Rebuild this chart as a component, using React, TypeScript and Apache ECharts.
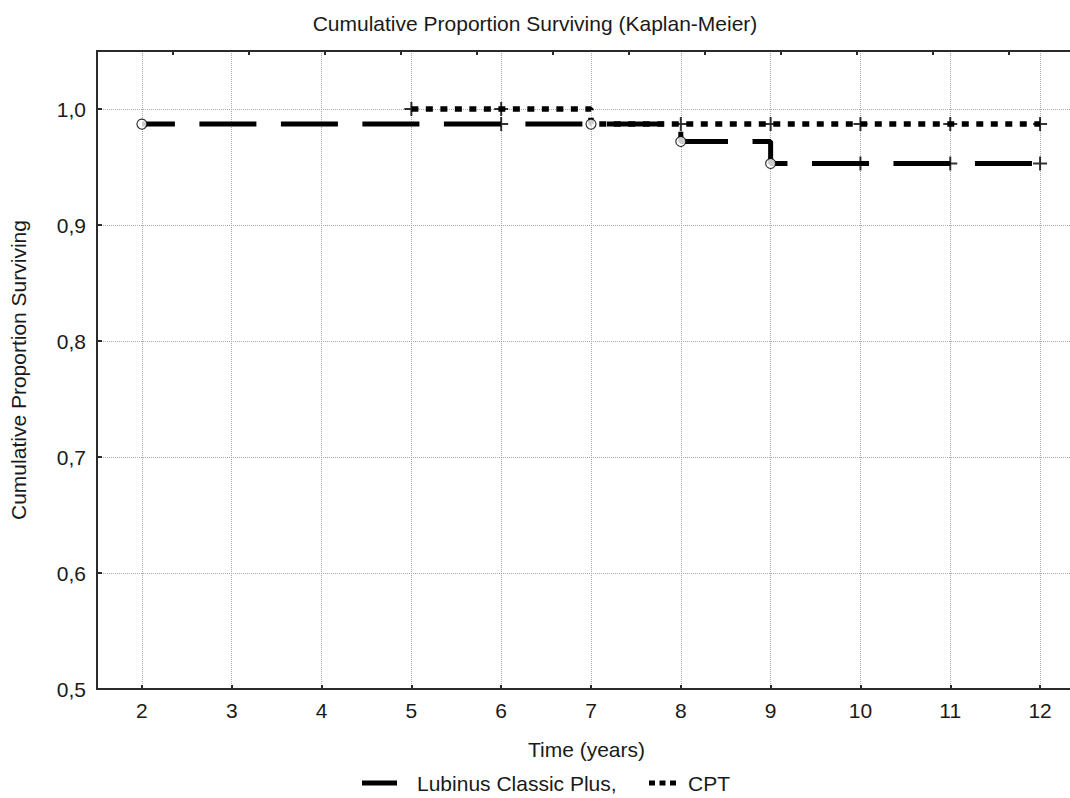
import React, { useEffect, useRef } from "react";
import * as echarts from "echarts";

// Kaplan-Meier step curves (time in years, cumulative proportion surviving)
const lubinusTimes = [2, 8, 9, 12];
const lubinusSurvival = [0.987, 0.972, 0.953, 0.953];
const cptTimes = [5, 7, 12];
const cptSurvival = [1.0, 0.987, 0.987];

// Complete (event) markers: open circles
const lubinusEventTimes = [2, 8, 9];
const lubinusEventSurvival = [0.987, 0.972, 0.953];
const cptEventTimes = [7];
const cptEventSurvival = [0.987];

// Censored markers: plus signs
const lubinusCensoredTimes = [6, 10, 11, 12];
const lubinusCensoredSurvival = [0.987, 0.953, 0.953, 0.953];
const cptCensoredTimes = [5, 6, 8, 9, 10, 11, 12];
const cptCensoredSurvival = [1.0, 1.0, 0.987, 0.987, 0.987, 0.987, 0.987];

const seriesNames = ["Lubinus Classic Plus,", "CPT"];
const chartTitle = "Cumulative Proportion Surviving (Kaplan-Meier)";
const xAxisTitle = "Time (years)";
const yAxisTitle = "Cumulative Proportion Surviving";

const FONT = "'Liberation Sans', Arial, sans-serif";
const TEXT = "#1a1a1a";
const AXIS = "#2b2b2b";
const GRIDC = "#a8a8a8";
const PLUS = "path://M6,0h2v6h6v2h-6v6h-2v-6h-6v-2h6z";

const zip = (xs: number[], ys: number[]) => xs.map((x, i) => [x, ys[i]]);

export default function App() {
  const ref = useRef<HTMLDivElement>(null);

  useEffect(() => {
    if (!ref.current) return;
    const chart = echarts.init(ref.current, null, { renderer: "svg" });

    const circleSeries = (data: number[][]) => ({
      type: "scatter",
      data,
      symbol: "circle",
      symbolSize: 10,
      itemStyle: { color: "#ffffff", borderColor: "#000000", borderWidth: 1.2 },
      z: 5,
      silent: true,
    });
    const plusSeries = (data: number[][]) => ({
      type: "scatter",
      data,
      symbol: PLUS,
      symbolSize: 14,
      itemStyle: { color: "#000000" },
      z: 6,
      silent: true,
    });

    const legendY = 783;

    chart.setOption({
      animation: false,
      backgroundColor: "#ffffff",
      textStyle: { fontFamily: FONT, color: TEXT },
      title: {
        text: chartTitle,
        left: "center",
        top: 8,
        textStyle: { fontFamily: FONT, fontSize: 21, fontWeight: "normal", color: TEXT },
      },
      graphic: [
        {
          type: "line",
          shape: { x1: 362, y1: legendY, x2: 397, y2: legendY },
          style: { stroke: "#000", lineWidth: 5 },
        },
        {
          type: "text",
          x: 417,
          y: legendY,
          style: {
            text: seriesNames[0],
            fontFamily: FONT,
            fontSize: 21,
            fill: TEXT,
            verticalAlign: "middle",
            align: "left",
          },
        },
        {
          type: "line",
          shape: { x1: 649, y1: legendY, x2: 676, y2: legendY },
          style: { stroke: "#000", lineWidth: 5, lineDash: [6, 4.5] },
        },
        {
          type: "text",
          x: 688,
          y: legendY,
          style: {
            text: seriesNames[1],
            fontFamily: FONT,
            fontSize: 21,
            fill: TEXT,
            verticalAlign: "middle",
            align: "left",
          },
        },
      ],
      grid: {
        left: 97,
        top: 51,
        right: -6,
        bottom: 109,
        outerBoundsMode: "none",
      },
      xAxis: [
        {
          type: "value",
          min: 1.5,
          max: 12.4,
          minInterval: 1,
          maxInterval: 1,
          name: xAxisTitle,
          nameLocation: "middle",
          nameGap: 50,
          nameTextStyle: { fontFamily: FONT, fontSize: 21, color: TEXT },
          axisLine: { show: true, lineStyle: { color: AXIS, width: 2 } },
          axisTick: { show: true, inside: true, length: 4, lineStyle: { color: AXIS, width: 2 } },
          axisLabel: {
            margin: 11,
            fontFamily: FONT,
            fontSize: 21,
            color: TEXT,
            showMinLabel: false,
            showMaxLabel: false,
            formatter: (v: number) => (Math.abs(v - Math.round(v)) < 1e-6 ? String(Math.round(v)) : ""),
          },
          splitLine: { show: true, lineStyle: { color: GRIDC, width: 1, type: [1, 1] } },
        },
        {
          type: "value",
          position: "top",
          min: 0,
          max: 12.88,
          interval: 1,
          axisLine: { show: true, lineStyle: { color: AXIS, width: 2 } },
          axisTick: { show: true, inside: true, length: 4, lineStyle: { color: AXIS, width: 2 } },
          axisLabel: { show: false },
          splitLine: { show: false },
        },
      ],
      yAxis: {
        type: "value",
        min: 0.5,
        max: 1.05,
        interval: 0.1,
        name: yAxisTitle,
        nameLocation: "middle",
        nameGap: 68,
        nameRotate: 90,
        nameTextStyle: { fontFamily: FONT, fontSize: 21, color: TEXT },
        axisLine: { show: true, lineStyle: { color: AXIS, width: 2 } },
        axisTick: { show: true, inside: true, length: 5, lineStyle: { color: AXIS, width: 2 } },
        axisLabel: {
          margin: 11,
          fontFamily: FONT,
          fontSize: 21,
          color: TEXT,
          showMaxLabel: false,
          formatter: (v: number) => (v > 1.0001 ? "" : v.toFixed(1).replace(".", ",")),
        },
        splitLine: { show: true, lineStyle: { color: GRIDC, width: 1, type: [1, 1] } },
      },
      series: [
        {
          name: seriesNames[0],
          type: "line",
          step: "end",
          data: zip(lubinusTimes, lubinusSurvival),
          symbol: "none",
          lineStyle: { color: "#000000", width: 5, type: [57, 24.5], dashOffset: 24, cap: "butt" },
          itemStyle: { color: "#000000" },
          z: 3,
          silent: true,
        },
        {
          name: seriesNames[1],
          type: "line",
          step: "end",
          data: zip(cptTimes, cptSurvival),
          symbol: "none",
          lineStyle: { color: "#000000", width: 5.5, type: [7, 7.5], dashOffset: 0, cap: "butt" },
          itemStyle: { color: "#000000" },
          z: 3,
          silent: true,
        },
        circleSeries(zip(lubinusEventTimes, lubinusEventSurvival)),
        circleSeries(zip(cptEventTimes, cptEventSurvival)),
        plusSeries(zip(lubinusCensoredTimes, lubinusCensoredSurvival)),
        plusSeries(zip(cptCensoredTimes, cptCensoredSurvival)),
      ],
    });

    return () => chart.dispose();
  }, []);

  return (
    <div
      ref={ref}
      style={{ position: "absolute", left: 0, top: 0, width: 1070, height: 798, background: "#fff" }}
    />
  );
}
